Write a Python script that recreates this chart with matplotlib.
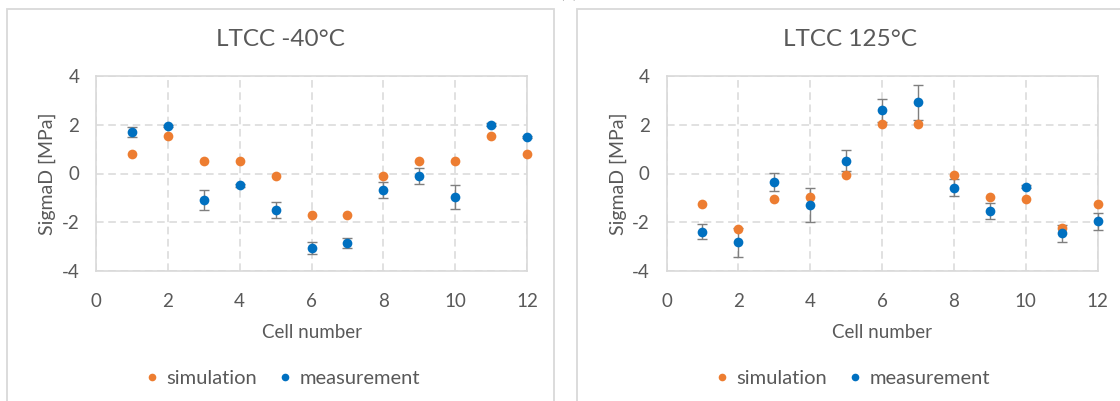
import matplotlib
matplotlib.use("Agg")
import matplotlib.pyplot as plt
from matplotlib.patches import Rectangle
from matplotlib.lines import Line2D

plt.rcParams['font.family'] = ['Lato', 'DejaVu Sans']

cells = [1, 2, 3, 4, 5, 6, 7, 8, 9, 10, 11, 12]

# LTCC at -40 °C
sim_cold = [0.82, 1.52, 0.51, 0.51, -0.12, -1.71, -1.71, -0.12, 0.51, 0.51, 1.52, 0.82]
meas_cold = [1.69, 1.94, -1.08, -0.49, -1.48, -3.05, -2.86, -0.67, -0.10, -0.97, 2.01, 1.49]
err_cold = [0.21, 0.05, 0.41, 0.06, 0.33, 0.26, 0.20, 0.33, 0.34, 0.49, 0.05, 0.05]

# LTCC at 125 °C
sim_hot = [-1.24, -2.27, -1.05, -0.96, -0.07, 2.02, 2.02, -0.07, -0.97, -1.05, -2.25, -1.24]
meas_hot = [-2.38, -2.83, -0.34, -1.28, 0.53, 2.60, 2.92, -0.59, -1.54, -0.55, -2.46, -1.95]
err_hot = [0.29, 0.61, 0.36, 0.70, 0.42, 0.47, 0.71, 0.35, 0.31, 0.06, 0.36, 0.35]

titles = ["LTCC -40°C", "LTCC 125°C"]
x_ticks = [0, 2, 4, 6, 8, 10, 12]
y_ticks = [-4, -2, 0, 2, 4]

ORANGE = "#ED7D31"
BLUE = "#0070C0"
TEXT = "#595959"
GRID = "#D9D9D9"

W, H = 1120, 401
fig = plt.figure(figsize=(W / 100, H / 100), dpi=100)


def fx(px):
    return px / W


def fy(py):
    return 1 - py / H


# chart frames
for x0, x1 in [(6.5, 554), (576.5, 1125)]:
    fig.patches.append(Rectangle((fx(x0), fy(440)), fx(x1 - x0), (440 - 8.5) / H,
                                 transform=fig.transFigure, fill=False,
                                 edgecolor="#D9D9D9", linewidth=1.3))

fig.text(fx(569), 1 + 1.5 / H, "(a)", ha="center", va="baseline",
         fontsize=13, color="#404040")

panels = [
    (96, 527, 280, sim_cold, meas_cold, err_cold, titles[0], 280),
    (666.5, 1097.5, 850, sim_hot, meas_hot, err_hot, titles[1], 850),
]

for (left, right, center, sim, meas, err, title, leg_c) in panels:
    top, bottom = 76, 271
    ax = fig.add_axes([fx(left), fy(bottom), fx(right - left), (bottom - top) / H])
    ax.set_xlim(0, 12)
    ax.set_ylim(-4, 4)
    ax.set_xticks(x_ticks)
    ax.set_yticks(y_ticks)
    ax.set_yticklabels([str(v) for v in y_ticks])
    ax.tick_params(length=0, labelsize=13.5, colors=TEXT)
    ax.tick_params(axis='x', pad=16)
    ax.tick_params(axis='y', pad=12)
    for s in ax.spines.values():
        s.set_color(GRID)
        s.set_linewidth(1.2)
    ax.grid(True, color=GRID, linestyle=(0, (5, 3)), linewidth=1.1)
    ax.set_axisbelow(True)

    ax.errorbar(cells, meas, yerr=err, fmt='none', ecolor="#7F7F7F",
                elinewidth=1, capsize=3.5, capthick=1, zorder=3, clip_on=False)
    ax.plot(cells, sim, 'o', color=ORANGE, markersize=7, markeredgewidth=0,
            zorder=4, clip_on=False)
    ax.plot(cells, meas, 'o', color=BLUE, markersize=7, markeredgewidth=0,
            zorder=5, clip_on=False)

    ax.set_xlabel("Cell number", fontsize=13.5, color=TEXT, labelpad=10)
    ax.set_ylabel("SigmaD [MPa]", fontsize=14, color=TEXT, labelpad=4)
    fig.text(fx(center), fy(39), title, ha="center", va="center",
             fontsize=17.5, color=TEXT)

    handles = [
        Line2D([], [], marker='o', linestyle='none', color=ORANGE,
               markersize=5.5, markeredgewidth=0, label="simulation"),
        Line2D([], [], marker='o', linestyle='none', color=BLUE,
               markersize=5.5, markeredgewidth=0, label="measurement"),
    ]
    fig.legend(handles=handles, loc="center", bbox_to_anchor=(fx(leg_c), fy(378)),
               ncol=2, frameon=False, fontsize=14.5, labelcolor=TEXT,
               handletextpad=0.1, columnspacing=0.8, handlelength=1.2)

fig.savefig("out.png", dpi=100)
